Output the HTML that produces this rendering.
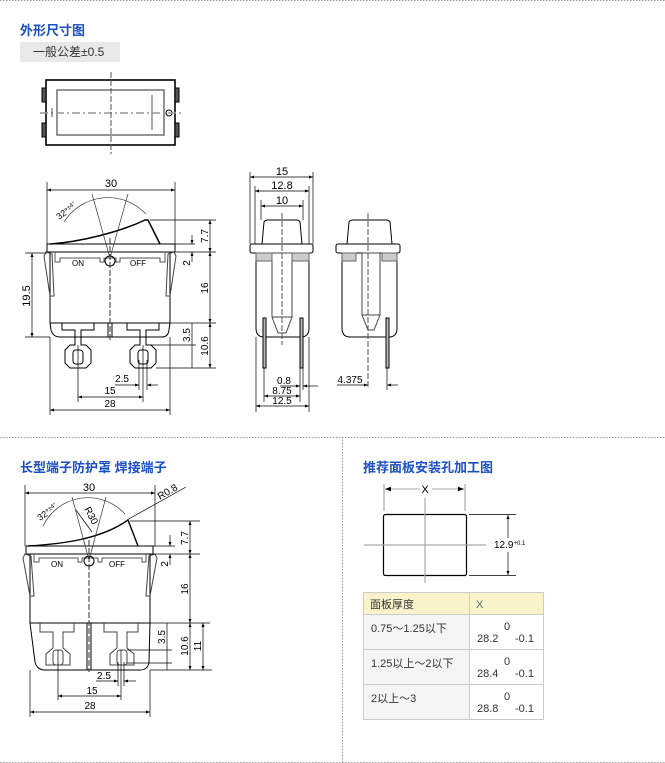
<!DOCTYPE html>
<html><head><meta charset="utf-8"><style>
html,body{margin:0;padding:0;background:#fff;}
svg{display:block;}
text{font-family:"Liberation Sans","Noto Sans CJK SC",sans-serif;}
</style></head><body>
<svg width="665" height="763" viewBox="0 0 665 763" xmlns="http://www.w3.org/2000/svg">
<defs>
<marker id="a" viewBox="0 0 8 6" refX="8" refY="3" markerWidth="6" markerHeight="5" orient="auto-start-reverse"><path d="M0,0L8,3L0,6z" fill="#000"/></marker>
</defs>
<!-- separators -->
<g stroke="#999" stroke-dasharray="1.5,1.5" stroke-width="1">
<line x1="0" y1="0.5" x2="665" y2="0.5"/>
<line x1="0" y1="437.5" x2="665" y2="437.5"/>
<line x1="342.5" y1="437" x2="342.5" y2="763"/>
<line x1="0" y1="762.5" x2="665" y2="762.5"/>
</g>
<!-- titles -->
<text x="20" y="35" font-size="13" font-weight="bold" fill="#1b4fc4">外形尺寸图</text>
<rect x="20" y="42" width="100" height="20" fill="#e8e8e8"/>
<text x="33" y="56" font-size="12" fill="#333">一般公差±0.5</text>
<text x="20" y="472" font-size="13" font-weight="bold" fill="#1b4fc4">长型端子防护罩 焊接端子</text>
<text x="363" y="472" font-size="13" font-weight="bold" fill="#1b4fc4">推荐面板安装孔加工图</text>

<g fill="none" stroke="#000" stroke-width="1">
<!-- top view -->
<rect x="46" y="80" width="129" height="65" stroke-width="1.6"/>
<rect x="57" y="90" width="107" height="45" stroke="#666" stroke-width="1.4"/>
<rect x="42" y="88" width="4" height="14" fill="#555"/><rect x="42" y="123" width="4" height="14" fill="#555"/>
<rect x="175" y="88" width="4" height="14" fill="#555"/><rect x="175" y="123" width="4" height="14" fill="#555"/>
<circle cx="169" cy="113" r="3"/>
<line x1="152" y1="95" x2="152" y2="130" stroke="#555"/>
<line x1="40" y1="113" x2="184" y2="113" stroke="#999" stroke-dasharray="8,3,2,3" stroke-width="1.4"/>
<line x1="111" y1="72" x2="111" y2="154" stroke="#555" stroke-dasharray="6,2"/>
<line x1="52" y1="108" x2="52" y2="117" stroke="#555"/>

<!-- front view top -->
<path d="M47,244 L175,244 L175,252 L47,252 Z"/>
<path d="M50,244 C80,242 120,232 145,220 L148,220 L160,244" stroke-width="1.5"/>
<path d="M50,252 L50,323 L51,330 Q53,337 60,337 L162,337 Q168,337 169,330 L170,323 L170,252"/>
<line x1="50" y1="323" x2="170" y2="323"/>
<path d="M44,256 L46,252 L52,254 L54,296 L50,296 Z" stroke="#444"/>
<path d="M176,256 L174,252 L168,254 L166,296 L170,296 Z" stroke="#444"/>
<path d="M55,252 V262 H60 V258 H100 V262 H104 V258 H116 V262 H120 V258 H160 V262 H165 V252" stroke="#555"/>
<circle cx="110" cy="261" r="5"/>
<!-- terminals -->
<path d="M62,323 V330 H75 V345 H70 L65,350 V363 L70,368 H86 L91,363 V350 L86,345 H81 V330 H94 V323"/>
<rect x="73" y="350" width="10" height="14" rx="3"/>
<path d="M127,323 V330 H140 V345 H135 L130,350 V363 L135,368 H151 L156,363 V350 L151,345 H146 V330 H159 V323"/>
<rect x="138" y="350" width="10" height="14" rx="3"/>
<line x1="108" y1="323" x2="108" y2="337"/><line x1="112" y1="323" x2="112" y2="337"/>
<!-- center & angle -->
<line x1="110" y1="238" x2="110" y2="340" stroke="#333" stroke-dasharray="6,2"/>
<line x1="110" y1="258" x2="92" y2="194" stroke="#333" stroke-width="0.7"/>
<line x1="110" y1="258" x2="128" y2="194" stroke="#333" stroke-width="0.7"/>
<path d="M64,222 A52,52 0 0 1 146,214" stroke="#333" stroke-width="0.7"/>
</g>
<g fill="none" stroke="#000" stroke-width="0.7">
<!-- front dims -->
<line x1="47" y1="182" x2="47" y2="244"/><line x1="175" y1="182" x2="175" y2="244"/>
<line x1="47" y1="190" x2="175" y2="190" marker-start="url(#a)" marker-end="url(#a)"/>
<line x1="25" y1="253" x2="47" y2="253"/><line x1="25" y1="337" x2="50" y2="337"/>
<line x1="32" y1="253" x2="32" y2="337" marker-start="url(#a)" marker-end="url(#a)"/>
<line x1="150" y1="220" x2="216" y2="220"/><line x1="175" y1="252" x2="216" y2="252"/>
<line x1="175" y1="244" x2="195" y2="244"/>
<line x1="210" y1="220" x2="210" y2="252" marker-start="url(#a)" marker-end="url(#a)"/>
<line x1="192" y1="235" x2="192" y2="244" marker-end="url(#a)"/>
<line x1="192" y1="262" x2="192" y2="252" marker-end="url(#a)"/>
<line x1="170" y1="323" x2="216" y2="323"/>
<line x1="210" y1="252" x2="210" y2="323" marker-start="url(#a)" marker-end="url(#a)"/>
<line x1="156" y1="368" x2="216" y2="368"/><line x1="148" y1="345" x2="196" y2="345"/>
<line x1="210" y1="323" x2="210" y2="368" marker-start="url(#a)" marker-end="url(#a)"/>
<line x1="192" y1="323" x2="192" y2="368"/>
<line x1="78" y1="345" x2="78" y2="402"/><line x1="143" y1="345" x2="143" y2="402"/>
<line x1="139" y1="360" x2="139" y2="390"/><line x1="147" y1="360" x2="147" y2="390"/>
<line x1="115" y1="385" x2="139" y2="385" marker-end="url(#a)"/><line x1="158" y1="385" x2="147" y2="385" marker-end="url(#a)"/>
<line x1="78" y1="397" x2="143" y2="397" marker-start="url(#a)" marker-end="url(#a)"/>
<line x1="50" y1="337" x2="50" y2="415"/><line x1="170" y1="337" x2="170" y2="415"/>
<line x1="50" y1="410" x2="170" y2="410" marker-start="url(#a)" marker-end="url(#a)"/>
</g>
<g font-size="10" fill="#000">
<text x="111" y="187" text-anchor="middle" font-size="11">30</text>
<text transform="translate(30,296) rotate(-90)" text-anchor="middle" font-size="11">19.5</text>
<text transform="translate(208,236) rotate(-90)" text-anchor="middle">7.7</text>
<text transform="translate(190,263) rotate(-90)" text-anchor="middle">2</text>
<text transform="translate(208,288) rotate(-90)" text-anchor="middle">16</text>
<text transform="translate(190,335) rotate(-90)" text-anchor="middle">3.5</text>
<text transform="translate(208,346) rotate(-90)" text-anchor="middle">10.6</text>
<text x="122" y="382" text-anchor="middle">2.5</text>
<text x="110" y="394" text-anchor="middle">15</text>
<text x="110" y="407" text-anchor="middle">28</text>
<text x="72" y="266" font-size="8">ON</text>
<text x="130" y="266" font-size="8">OFF</text>
<text transform="translate(59,220) rotate(-35)" font-size="9">32°<tspan font-size="6" dy="-3">±4°</tspan></text>
</g>

<!-- side view 1 -->
<g fill="none" stroke="#000" stroke-width="1">
<path d="M262,244 L264,222 Q265,220 268,220 L296,220 Q299,220 300,222 L302,244"/>
<rect x="250" y="244" width="63" height="9" rx="2"/>
<path d="M256,253 V328 Q256,337 264,337 H301 Q309,337 309,328 V253"/>
<rect x="272" y="253" width="20" height="64" stroke="#444"/>
<path d="M272,317 L278,333 L286,333 L292,317" stroke="#444"/>
<rect x="256" y="253" width="16" height="8" fill="#ccc" stroke="#666"/>
<rect x="292" y="253" width="17" height="8" fill="#ccc" stroke="#666"/>
<rect x="263" y="318" width="3" height="50" fill="#bbb"/>
<rect x="300" y="318" width="3" height="50" fill="#bbb"/>
<line x1="282" y1="213" x2="282" y2="345" stroke-dasharray="6,2" stroke="#555"/>
<!-- side view 2 -->
<path d="M347,244 L349,222 Q350,220 353,220 L386,220 Q389,220 390,222 L392,244"/>
<rect x="336" y="244" width="64" height="9" rx="2"/>
<path d="M342,253 V328 Q342,337 350,337 H389 Q397,337 397,328 V253"/>
<rect x="362" y="253" width="18" height="62" stroke="#444"/>
<path d="M362,315 L368,330 L374,330 L380,315" stroke="#444"/>
<rect x="342" y="253" width="14" height="8" fill="#ccc" stroke="#666"/>
<rect x="382" y="253" width="15" height="8" fill="#ccc" stroke="#666"/>
<rect x="386" y="318" width="3" height="50" fill="#bbb"/>
<line x1="368" y1="213" x2="368" y2="388" stroke-dasharray="6,2" stroke="#555"/>
</g>
<g fill="none" stroke="#000" stroke-width="0.7">
<line x1="250" y1="172" x2="250" y2="244"/><line x1="313" y1="172" x2="313" y2="244"/>
<line x1="250" y1="177" x2="313" y2="177" marker-start="url(#a)" marker-end="url(#a)"/>
<line x1="255" y1="186" x2="255" y2="244"/><line x1="309" y1="186" x2="309" y2="244"/>
<line x1="255" y1="191" x2="309" y2="191" marker-start="url(#a)" marker-end="url(#a)"/>
<line x1="261" y1="200" x2="261" y2="220"/><line x1="303" y1="200" x2="303" y2="220"/>
<line x1="261" y1="206" x2="303" y2="206" marker-start="url(#a)" marker-end="url(#a)"/>
<line x1="264" y1="368" x2="264" y2="402"/><line x1="300" y1="368" x2="300" y2="402"/><line x1="303" y1="368" x2="303" y2="390"/>
<line x1="280" y1="386" x2="300" y2="386" marker-end="url(#a)"/><line x1="318" y1="386" x2="303" y2="386" marker-end="url(#a)"/>
<line x1="264" y1="396" x2="300" y2="396" marker-start="url(#a)" marker-end="url(#a)"/>
<line x1="256" y1="337" x2="256" y2="412"/><line x1="309" y1="337" x2="309" y2="412"/>
<line x1="256" y1="406" x2="309" y2="406" marker-start="url(#a)" marker-end="url(#a)"/>
<line x1="387" y1="368" x2="387" y2="390"/>
<line x1="337" y1="385" x2="368" y2="385" marker-end="url(#a)"/><line x1="398" y1="385" x2="387" y2="385" marker-end="url(#a)"/>
</g>
<g font-size="10" fill="#000" text-anchor="middle">
<text x="282" y="175" font-size="11">15</text>
<text x="282" y="189" font-size="11">12.8</text>
<text x="282" y="204" font-size="11">10</text>
<text x="284" y="384">0.8</text>
<text x="282" y="394">8.75</text>
<text x="282" y="404">12.5</text>
<text x="350" y="383">4.375</text>
</g>

<!-- bottom-left drawing -->
<g fill="none" stroke="#000" stroke-width="1">
<rect x="26" y="546" width="127" height="8"/>
<path d="M28,546 C60,544 100,540 128,520 L138,546" stroke-width="1.4"/>
<path d="M30,554 L30,623 L35,662 Q37,670 45,670 L140,670 Q148,670 149,662 L150,623 L150,554"/>
<line x1="30" y1="623" x2="150" y2="623"/>
<path d="M23,558 L25,554 L31,556 L34,596 L30,596 Z" stroke="#444"/>
<path d="M157,558 L155,554 L149,556 L146,596 L150,596 Z" stroke="#444"/>
<path d="M34,554 V562 H39 V558 H78 V562 H82 V558 H98 V562 H102 V558 H142 V562 H146 V554" stroke="#555"/>
<circle cx="89" cy="561" r="5"/>
<path d="M40,623 V632 H53 V648 L46,654 V665 H70 V654 L63,648 V632 H74 V623" stroke="#444"/>
<rect x="53" y="650" width="10" height="15" rx="3" stroke="#444"/>
<path d="M104,623 V632 H117 V648 L110,654 V665 H134 V654 L127,648 V632 H138 V623" stroke="#444"/>
<rect x="117" y="650" width="10" height="15" rx="3" stroke="#444"/>
<line x1="87" y1="623" x2="87" y2="670"/><line x1="91" y1="623" x2="91" y2="670"/>
<line x1="89" y1="540" x2="89" y2="672" stroke="#333" stroke-dasharray="6,2"/>
<line x1="89" y1="560" x2="72" y2="497" stroke="#333" stroke-width="0.7"/>
<line x1="89" y1="560" x2="106" y2="497" stroke="#333" stroke-width="0.7"/>
<path d="M43,526 A50,50 0 0 1 125,514" stroke="#333" stroke-width="0.7"/>
<line x1="92" y1="532" x2="76" y2="510" stroke-width="0.7"/>
<line x1="127" y1="520" x2="186" y2="487" stroke-width="0.7"/>
</g>
<g fill="none" stroke="#000" stroke-width="0.7">
<line x1="25" y1="485" x2="25" y2="546"/><line x1="155" y1="485" x2="155" y2="546"/>
<line x1="25" y1="493" x2="155" y2="493" marker-start="url(#a)" marker-end="url(#a)"/>
<line x1="130" y1="521" x2="200" y2="521"/><line x1="153" y1="554" x2="200" y2="554"/>
<line x1="153" y1="546" x2="175" y2="546"/>
<line x1="190" y1="521" x2="190" y2="554" marker-start="url(#a)" marker-end="url(#a)"/>
<line x1="170" y1="535" x2="170" y2="546" marker-end="url(#a)"/>
<line x1="170" y1="565" x2="170" y2="554" marker-end="url(#a)"/>
<line x1="150" y1="623" x2="210" y2="623"/>
<line x1="190" y1="554" x2="190" y2="623" marker-start="url(#a)" marker-end="url(#a)"/>
<line x1="150" y1="670" x2="212" y2="670"/><line x1="127" y1="650" x2="172" y2="650"/><line x1="127" y1="663" x2="172" y2="663"/>
<line x1="167" y1="623" x2="167" y2="670"/>
<line x1="190" y1="623" x2="190" y2="670" marker-start="url(#a)" marker-end="url(#a)"/>
<line x1="203" y1="623" x2="203" y2="670" marker-start="url(#a)" marker-end="url(#a)"/>
<line x1="58" y1="650" x2="58" y2="700"/><line x1="121" y1="650" x2="121" y2="700"/>
<line x1="118" y1="662" x2="118" y2="686"/><line x1="124" y1="662" x2="124" y2="686"/>
<line x1="96" y1="681" x2="118" y2="681" marker-end="url(#a)"/><line x1="136" y1="681" x2="124" y2="681" marker-end="url(#a)"/>
<line x1="58" y1="696" x2="121" y2="696" marker-start="url(#a)" marker-end="url(#a)"/>
<line x1="30" y1="670" x2="30" y2="717"/><line x1="150" y1="670" x2="150" y2="717"/>
<line x1="30" y1="712" x2="150" y2="712" marker-start="url(#a)" marker-end="url(#a)"/>
</g>
<g font-size="10" fill="#000">
<text x="89" y="491" text-anchor="middle" font-size="11">30</text>
<text transform="translate(188,538) rotate(-90)" text-anchor="middle">7.7</text>
<text transform="translate(168,564) rotate(-90)" text-anchor="middle">2</text>
<text transform="translate(188,589) rotate(-90)" text-anchor="middle">16</text>
<text transform="translate(165,637) rotate(-90)" text-anchor="middle">3.5</text>
<text transform="translate(188,646) rotate(-90)" text-anchor="middle">10.6</text>
<text transform="translate(201,646) rotate(-90)" text-anchor="middle">11</text>
<text x="104" y="679" text-anchor="middle">2.5</text>
<text x="92" y="694" text-anchor="middle">15</text>
<text x="90" y="709" text-anchor="middle">28</text>
<text x="51" y="567" font-size="8">ON</text>
<text x="109" y="567" font-size="8">OFF</text>
<text transform="translate(40,521) rotate(-35)" font-size="9">32°<tspan font-size="6" dy="-3">±4°</tspan></text>
<text transform="translate(84,509) rotate(62)" font-size="10">R30</text>
<text transform="translate(160,500) rotate(-30)" font-size="10">R0.8</text>
</g>

<!-- panel cutout -->
<g fill="none" stroke="#000">
<line x1="384" y1="484" x2="384" y2="511" stroke="#aaa" stroke-width="1.2"/>
<line x1="465" y1="484" x2="465" y2="511" stroke="#aaa" stroke-width="1.2"/>
<line x1="385" y1="489" x2="420" y2="489" stroke="#aaa" marker-start="url(#a)"/>
<line x1="432" y1="489" x2="464" y2="489" stroke="#aaa" marker-end="url(#a)"/>
<rect x="383.5" y="514.5" width="83" height="61" rx="2" stroke-width="1.2"/>
<line x1="364" y1="545" x2="486" y2="545" stroke="#aaa" stroke-width="1.2"/>
<line x1="425" y1="498" x2="425" y2="583" stroke="#aaa" stroke-width="1.2"/>
<line x1="469" y1="514.5" x2="516" y2="514.5" stroke-width="0.7"/>
<line x1="469" y1="575.5" x2="516" y2="575.5" stroke-width="0.7"/>
<line x1="508" y1="515" x2="508" y2="538" stroke-width="0.7" marker-start="url(#a)"/>
<line x1="508" y1="552" x2="508" y2="575" stroke-width="0.7" marker-end="url(#a)"/>
</g>
<text x="425" y="493" font-size="11" text-anchor="middle">X</text>
<text x="494" y="548" font-size="10">12.9<tspan font-size="6" dy="-3">+0.1</tspan></text>

<!-- table -->
<g stroke="#ccc" stroke-width="1">
<rect x="363.5" y="592.5" width="180" height="22" fill="#f8f3cb"/>
<rect x="363.5" y="614.5" width="106" height="105" fill="#f5f5f5"/>
<rect x="469.5" y="614.5" width="74" height="105" fill="#fff"/>
<line x1="469.5" y1="592.5" x2="469.5" y2="719.5"/>
<line x1="363.5" y1="649.5" x2="543.5" y2="649.5"/>
<line x1="363.5" y1="684.5" x2="543.5" y2="684.5"/>
</g>
<g font-size="11" fill="#333">
<text x="370" y="608">面板厚度</text>
<text x="476" y="608" fill="#666">X</text>
<text x="371" y="632">0.75～1.25以下</text>
<text x="371" y="667">1.25以上～2以下</text>
<text x="371" y="702">2以上～3</text>
<text x="477" y="642">28.2</text><text x="504" y="630">0</text><text x="515" y="642">-0.1</text>
<text x="477" y="677">28.4</text><text x="504" y="665">0</text><text x="515" y="677">-0.1</text>
<text x="477" y="712">28.8</text><text x="504" y="700">0</text><text x="515" y="712">-0.1</text>
</g>
</svg>
</body></html>
